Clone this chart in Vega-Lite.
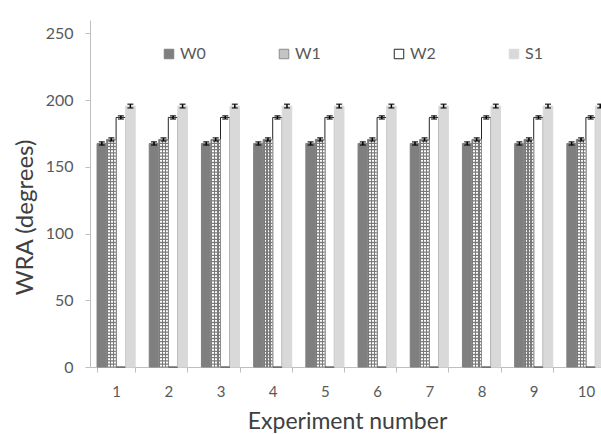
{
  "$schema": "https://vega.github.io/schema/vega-lite/v6.json",
  "width": 522,
  "height": 347,
  "autosize": "none",
  "padding": {"left": 90, "top": 20, "right": -11, "bottom": 67},
  "background": "white",
  "config": {
    "font": "Lato",
    "view": {"stroke": null},
    "axis": {"grid": false, "domainColor": "#bfbfbf", "tickColor": "#bfbfbf", "labelColor": "#595959", "titleColor": "#404040", "titleFontWeight": "normal"}
  },
  "data": {
    "values": [
      {"exp": "1", "series": "W0", "value": 167.5, "lo": 166.3, "hi": 168.7},
      {"exp": "1", "series": "W1", "value": 170.5, "lo": 169.3, "hi": 171.7},
      {"exp": "1", "series": "W2", "value": 187, "lo": 185.8, "hi": 188.2},
      {"exp": "1", "series": "S1", "value": 195.5, "lo": 194.1, "hi": 196.9},
      {"exp": "2", "series": "W0", "value": 167.5, "lo": 166.3, "hi": 168.7},
      {"exp": "2", "series": "W1", "value": 170.5, "lo": 169.3, "hi": 171.7},
      {"exp": "2", "series": "W2", "value": 187, "lo": 185.8, "hi": 188.2},
      {"exp": "2", "series": "S1", "value": 195.5, "lo": 194.1, "hi": 196.9},
      {"exp": "3", "series": "W0", "value": 167.5, "lo": 166.3, "hi": 168.7},
      {"exp": "3", "series": "W1", "value": 170.5, "lo": 169.3, "hi": 171.7},
      {"exp": "3", "series": "W2", "value": 187, "lo": 185.8, "hi": 188.2},
      {"exp": "3", "series": "S1", "value": 195.5, "lo": 194.1, "hi": 196.9},
      {"exp": "4", "series": "W0", "value": 167.5, "lo": 166.3, "hi": 168.7},
      {"exp": "4", "series": "W1", "value": 170.5, "lo": 169.3, "hi": 171.7},
      {"exp": "4", "series": "W2", "value": 187, "lo": 185.8, "hi": 188.2},
      {"exp": "4", "series": "S1", "value": 195.5, "lo": 194.1, "hi": 196.9},
      {"exp": "5", "series": "W0", "value": 167.5, "lo": 166.3, "hi": 168.7},
      {"exp": "5", "series": "W1", "value": 170.5, "lo": 169.3, "hi": 171.7},
      {"exp": "5", "series": "W2", "value": 187, "lo": 185.8, "hi": 188.2},
      {"exp": "5", "series": "S1", "value": 195.5, "lo": 194.1, "hi": 196.9},
      {"exp": "6", "series": "W0", "value": 167.5, "lo": 166.3, "hi": 168.7},
      {"exp": "6", "series": "W1", "value": 170.5, "lo": 169.3, "hi": 171.7},
      {"exp": "6", "series": "W2", "value": 187, "lo": 185.8, "hi": 188.2},
      {"exp": "6", "series": "S1", "value": 195.5, "lo": 194.1, "hi": 196.9},
      {"exp": "7", "series": "W0", "value": 167.5, "lo": 166.3, "hi": 168.7},
      {"exp": "7", "series": "W1", "value": 170.5, "lo": 169.3, "hi": 171.7},
      {"exp": "7", "series": "W2", "value": 187, "lo": 185.8, "hi": 188.2},
      {"exp": "7", "series": "S1", "value": 195.5, "lo": 194.1, "hi": 196.9},
      {"exp": "8", "series": "W0", "value": 167.5, "lo": 166.3, "hi": 168.7},
      {"exp": "8", "series": "W1", "value": 170.5, "lo": 169.3, "hi": 171.7},
      {"exp": "8", "series": "W2", "value": 187, "lo": 185.8, "hi": 188.2},
      {"exp": "8", "series": "S1", "value": 195.5, "lo": 194.1, "hi": 196.9},
      {"exp": "9", "series": "W0", "value": 167.5, "lo": 166.3, "hi": 168.7},
      {"exp": "9", "series": "W1", "value": 170.5, "lo": 169.3, "hi": 171.7},
      {"exp": "9", "series": "W2", "value": 187, "lo": 185.8, "hi": 188.2},
      {"exp": "9", "series": "S1", "value": 195.5, "lo": 194.1, "hi": 196.9},
      {"exp": "10", "series": "W0", "value": 167.5, "lo": 166.3, "hi": 168.7},
      {"exp": "10", "series": "W1", "value": 170.5, "lo": 169.3, "hi": 171.7},
      {"exp": "10", "series": "W2", "value": 187, "lo": 185.8, "hi": 188.2},
      {"exp": "10", "series": "S1", "value": 195.5, "lo": 194.1, "hi": 196.9}
    ]
  },
  "encoding": {
    "x": {
      "field": "exp",
      "type": "ordinal",
      "sort": null,
      "scale": {"paddingInner": 0.27, "paddingOuter": 0.135},
      "axis": {
        "title": "Experiment number",
        "titleFontSize": 23,
        "titlePadding": 11,
        "titleX": 257,
        "labelAngle": 0,
        "labelFontSize": 15,
        "labelPadding": 12,
        "tickBand": "extent",
        "tickSize": 5
      }
    },
    "xOffset": {
      "field": "series",
      "type": "nominal",
      "scale": {"domain": ["W0", "W1", "W2", "S1"], "paddingInner": 0, "paddingOuter": 0}
    }
  },
  "layer": [
    {
      "mark": {"type": "bar", "strokeWidth": 1},
      "encoding": {
        "y": {
          "field": "value",
          "type": "quantitative",
          "scale": {"domain": [0, 250]},
          "axis": {
            "title": "WRA (degrees)",
            "titleFontSize": 24,
            "titlePadding": 8,
            "titleY": 197,
            "values": [0, 50, 100, 150, 200, 250],
            "labelFontSize": 16,
            "labelPadding": 12,
            "tickSize": 5
          }
        },
        "fill": {
          "field": "series",
          "type": "nominal",
          "scale": {"domain": ["W0", "W1", "W2", "S1"], "range": ["#7f7f7f", "#c4c4c4", "#ffffff", "#d9d9d9"]},
          "legend": {
            "title": null,
            "orient": "none",
            "legendX": 71,
            "legendY": 26,
            "direction": "horizontal",
            "columns": 4,
            "gridAlign": "all",
            "columnPadding": 70,
            "symbolType": "square",
            "symbolSize": 90,
            "symbolStrokeWidth": 1,
            "labelFontSize": 16,
            "labelColor": "#595959",
            "labelOffset": 3
          }
        },
        "stroke": {
          "field": "series",
          "type": "nominal",
          "scale": {"domain": ["W0", "W1", "W2", "S1"], "range": ["#7f7f7f", "#8c8c8c", "#262626", "#d9d9d9"]},
          "legend": null
        }
      }
    },
    {
      "transform": [{"filter": "datum.series === 'W1'"}],
      "mark": {
        "type": "bar",
        "stroke": "#8c8c8c",
        "strokeWidth": 0.6,
        "fill": {
          "gradient": "linear",
          "x1": 0, "y1": 0, "x2": 1, "y2": 0,
          "stops": [
            {"offset": 0, "color": "#7a7a7a"},
            {"offset": 0.14, "color": "#7a7a7a"},
            {"offset": 0.14, "color": "#ffffff"},
            {"offset": 0.33, "color": "#ffffff"},
            {"offset": 0.33, "color": "#7a7a7a"},
            {"offset": 0.47, "color": "#7a7a7a"},
            {"offset": 0.47, "color": "#ffffff"},
            {"offset": 0.66, "color": "#ffffff"},
            {"offset": 0.66, "color": "#7a7a7a"},
            {"offset": 0.8, "color": "#7a7a7a"},
            {"offset": 0.8, "color": "#ffffff"},
            {"offset": 1, "color": "#ffffff"}
          ]
        }
      },
      "encoding": {"y": {"field": "value", "type": "quantitative"}}
    },
    {
      "transform": [{"filter": "datum.series === 'W1'"}],
      "mark": {"type": "rule", "color": "#7a7a7a", "strokeWidth": 9, "strokeDash": [1.3, 1.9]},
      "encoding": {
        "y": {"field": "value", "type": "quantitative"},
        "y2": {"datum": 0}
      }
    },
    {
      "mark": {"type": "rule", "color": "#000000", "strokeWidth": 1.5},
      "encoding": {
        "y": {"field": "lo", "type": "quantitative"},
        "y2": {"field": "hi"}
      }
    },
    {
      "mark": {"type": "tick", "color": "#000000", "thickness": 1.5, "size": 6},
      "encoding": {"y": {"field": "hi", "type": "quantitative"}}
    },
    {
      "mark": {"type": "tick", "color": "#000000", "thickness": 1.5, "size": 6},
      "encoding": {"y": {"field": "lo", "type": "quantitative"}}
    }
  ]
}
